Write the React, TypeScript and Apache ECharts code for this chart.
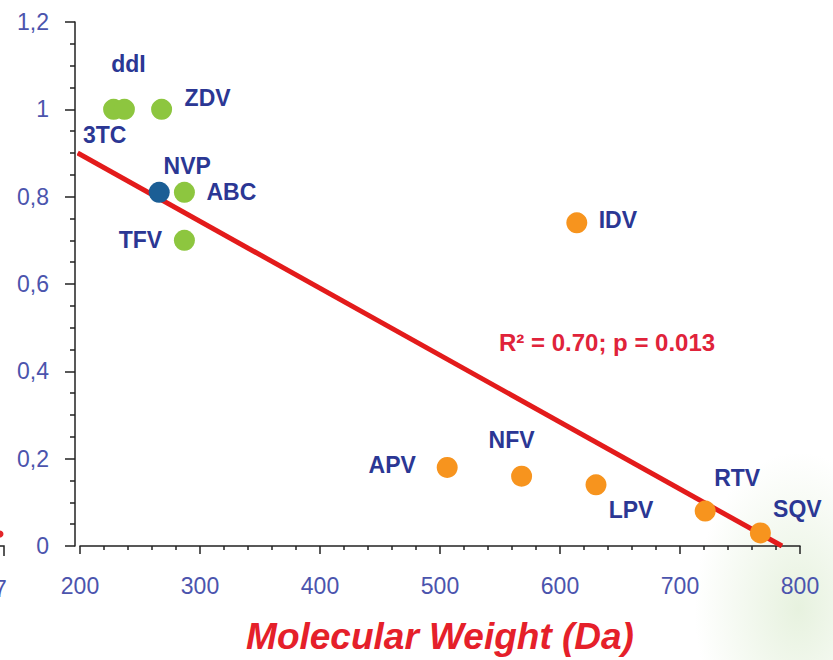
import React, { useEffect, useRef } from "react";
import * as echarts from "echarts";

// ---- data ----
const drugs = ["3TC", "ddI", "ZDV", "NVP", "ABC", "TFV", "IDV", "APV", "NFV", "LPV", "RTV", "SQV"];
const molecularWeight = [228, 237, 268, 266, 287, 287, 614, 506, 568, 630, 721, 767];
const ratioValue = [1.0, 1.0, 1.0, 0.81, 0.81, 0.7, 0.74, 0.18, 0.16, 0.14, 0.08, 0.03];
const drugClass = ["NRTI", "NRTI", "NRTI", "NNRTI", "NRTI", "NRTI", "PI", "PI", "PI", "PI", "PI", "PI"];
const classes = ["NRTI", "NNRTI", "PI"];
const fitX = [198, 785];
const fitY = [0.9, 0];
const xTicks = { min: 200, max: 800, step: 100 };
const yTicks = { min: 0, max: 1.2, step: 0.2 };
const annotation = "R² = 0.70; p = 0.013";
const xTitle = "Molecular Weight (Da)";

// ---- styles ----
const classColor: Record<string, string> = { NRTI: "#8dc63f", NNRTI: "#1b5e95", PI: "#f7941e" };
const labelOffset: Record<string, [number, number]> = {
  "3TC": [-9, 26],
  ddI: [4, -45],
  ZDV: [46, -11],
  NVP: [28, -26],
  ABC: [47, 0],
  TFV: [-44, 0],
  IDV: [41, -3],
  APV: [-55, -2],
  NFV: [-10, -36],
  LPV: [35, 25],
  RTV: [32, -33],
  SQV: [37, -24],
};
const FONT = "'Liberation Sans', Arial, sans-serif";
const NAVY = "#2b3794";
const TICK = "#4b54ad";

export default function App() {
  const ref = useRef<HTMLDivElement>(null);
  useEffect(() => {
    if (!ref.current) return;
    const chart = echarts.init(ref.current, null, { renderer: "svg" });

    const scatterSeries = classes.map((c) => ({
      type: "scatter",
      name: c,
      z: 5,
      symbolSize: 21,
      itemStyle: { color: classColor[c], opacity: 1 },
      data: drugs
        .map((d, i) => ({ i, d }))
        .filter(({ i }) => drugClass[i] === c)
        .map(({ i, d }) => ({
          name: d,
          value: [molecularWeight[i], ratioValue[i]],
          label: {
            show: true,
            position: "inside",
            offset: labelOffset[d],
            formatter: d,
            color: NAVY,
            fontSize: 23,
            fontWeight: "bold",
            fontFamily: FONT,
          },
        })),
    }));

    chart.setOption({
      animation: false,
      backgroundColor: "#ffffff",
      grid: { left: 80, right: 33, top: 22, bottom: 109, containLabel: false },
      xAxis: {
        type: "value",
        min: xTicks.min,
        max: xTicks.max,
        interval: xTicks.step,
        name: xTitle,
        nameLocation: "middle",
        nameGap: 72,
        nameTextStyle: {
          color: "#e5202a",
          fontSize: 37,
          fontWeight: "bold",
          fontStyle: "italic",
          fontFamily: FONT,
        },
        axisLine: { show: true, lineStyle: { color: "#222", width: 1.5 } },
        axisTick: { show: true, length: 8, lineStyle: { color: "#222", width: 1.5 } },
        minorTick: { show: true, splitNumber: 5, length: 4, lineStyle: { color: "#222", width: 1.5 } },
        splitLine: { show: false },
        axisLabel: { color: TICK, fontSize: 23, fontFamily: FONT, margin: 28 },
      },
      yAxis: {
        type: "value",
        min: yTicks.min,
        max: yTicks.max,
        interval: yTicks.step,
        offset: 5,
        axisLine: { show: true, lineStyle: { color: "#222", width: 1.5 } },
        axisTick: { show: true, length: 10, lineStyle: { color: "#222", width: 1.5 } },
        minorTick: { show: true, splitNumber: 4, length: 5, lineStyle: { color: "#222", width: 1.5 } },
        splitLine: { show: false },
        axisLabel: {
          color: TICK,
          fontSize: 23,
          fontFamily: FONT,
          margin: 26,
          formatter: (v: number) => String(Math.round(v * 10) / 10).replace(".", ","),
        },
      },
      graphic: [
        {
          type: "rect",
          z: -10,
          silent: true,
          shape: { x: 660, y: 400, width: 173, height: 260 },
          style: {
            fill: new echarts.graphic.RadialGradient(0.8, 0.8, 0.6, [
              { offset: 0, color: "rgba(195,222,175,0.4)" },
              { offset: 1, color: "rgba(195,222,175,0)" },
            ]),
          },
        },
        {
          type: "text",
          left: 499,
          top: 330,
          style: {
            text: annotation,
            fill: "#e0233a",
            fontSize: 24,
            fontWeight: "bold",
            fontFamily: FONT,
          },
        },
        {
          type: "text",
          x: -6,
          y: 589,
          style: { text: "7", fill: TICK, fontSize: 23, fontFamily: FONT, verticalAlign: "middle" },
        },
        { type: "circle", shape: { cx: 0, cy: 534, r: 3.5 }, style: { fill: "#e3262a" } },
        {
          type: "polyline",
          shape: { points: [[0, 546], [4, 546], [4, 556]] },
          style: { stroke: "#222", lineWidth: 1.5, fill: null },
        },
      ],
      series: [
        {
          type: "line",
          name: "fit",
          z: 3,
          symbol: "none",
          lineStyle: { color: "#e31b1b", width: 5 },
          data: fitX.map((x, i) => [x, fitY[i]]),
        },
        ...scatterSeries,
      ],
    });
    return () => chart.dispose();
  }, []);
  return (
    <div
      ref={ref}
      style={{ position: "absolute", left: 0, top: 0, width: 833, height: 660 }}
    />
  );
}
